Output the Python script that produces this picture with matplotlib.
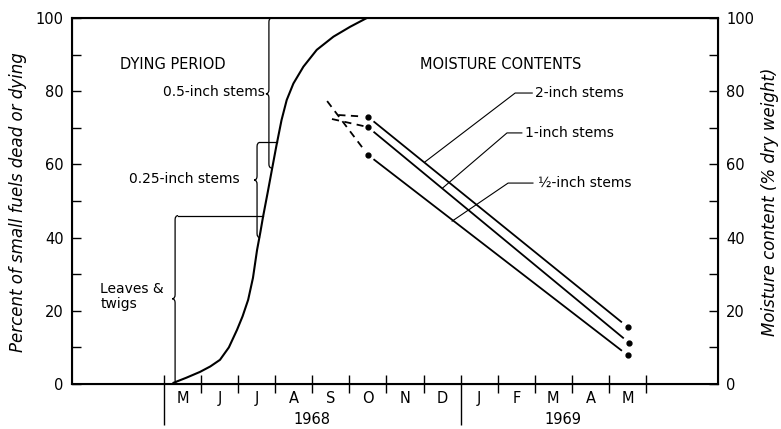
import matplotlib

matplotlib.use("Agg")
import matplotlib.pyplot as plt  # noqa: E402
import numpy as np  # noqa: E402
from matplotlib.patches import PathPatch  # noqa: E402
from matplotlib.path import Path  # noqa: E402

# x axis counted in months from 1 May 1968
month_labels = ["M", "J", "J", "A", "S", "O", "N", "D", "J", "F", "M", "A", "M"]
year_labels = ["1968", "1969"]
year_centres = [4.0, 10.75]
year_breaks = [0, 8]

# dying curve (percent of small fuels dead or dying)
dying_month = [0.25, 0.60, 0.97, 1.25, 1.51, 1.75, 1.97, 2.12, 2.27, 2.40,
               2.51, 2.60, 2.67, 2.80, 2.91, 3.03, 3.17, 3.31, 3.49, 3.76,
               4.12, 4.57, 5.02, 5.47]
dying_pct = [0.3, 1.7, 3.3, 4.8, 6.6, 10.0, 14.8, 18.5, 23.0, 29.0,
             36.6, 41.5, 45.6, 52.5, 58.5, 65.0, 72.1, 77.6, 82.1, 86.7,
             91.3, 94.9, 97.6, 100.0]

# dying-period classes
class_names = ["Leaves &\ntwigs", "0.25-inch stems", "0.5-inch stems"]
class_low = [0, 40, 59]
class_high = [46, 66, 100]

# moisture contents
stem_names = ["2-inch stems", "1-inch stems", "½-inch stems"]
moist_dash_month = [4.70, 4.53, 4.40]
moist_dash_value = [73.5, 72.4, 77.3]
moist_first_month = [5.5, 5.5, 5.5]
moist_first_value = [73.0, 70.2, 62.6]
moist_last_month = [12.5, 12.55, 12.5]
moist_last_value = [15.6, 11.2, 7.9]

FS = 10.5
PX_X = 1 / 37.08   # months per pixel
PX_Y = 1 / 3.66    # percent per pixel

fig = plt.figure(figsize=(7.81, 4.29), dpi=100)
ax = fig.add_axes([72 / 781, 45 / 429, 646 / 781, 366 / 429])
ax.set_xlim(-2.48, 14.94)
ax.set_ylim(0, 100)
for s in ax.spines.values():
    s.set_linewidth(1.5)

# y ticks both sides, inward
ax.set_yticks(range(0, 101, 20))
ax.set_yticks(range(10, 100, 20), minor=True)
ax.tick_params(axis="y", which="both", direction="in", length=6.5, width=1,
               labelsize=FS, pad=6)
ax2 = ax.twinx()
ax2.set_ylim(0, 100)
ax2.set_yticks(range(0, 101, 20))
ax2.set_yticks(range(10, 100, 20), minor=True)
ax2.tick_params(axis="y", which="both", direction="in", length=6.5, width=1,
                labelsize=FS, pad=6)

# month ticks and labels
ax.set_xticks([m for m in range(14) if m not in year_breaks])
ax.set_xticklabels([])
ax.set_xticks([m + 0.5 for m in range(len(month_labels))], minor=True)
ax.set_xticklabels(month_labels, minor=True)
ax.tick_params(axis="x", which="major", direction="inout", length=13, width=1)
ax.tick_params(axis="x", which="minor", length=0, labelsize=FS, pad=5)
ax.vlines(year_breaks, -41 / 366, 9 / 366, transform=ax.get_xaxis_transform(),
          color="black", lw=1, clip_on=False)
for yc, yl in zip(year_centres, year_labels):
    ax.text(yc, -36 / 366, yl, transform=ax.get_xaxis_transform(),
            ha="center", va="center", fontsize=FS)

# dying curve
ax.plot(dying_month, dying_pct, color="black", lw=1.5, solid_capstyle="round",
        solid_joinstyle="round")


def brace(x, y0, y1, tip, lw=0.9):
    w, h = 3 * PX_X, 4 * PX_Y
    verts = [(x + w, y0), (x, y0), (x, y0 + h),
             (x, tip - h), (x, tip), (x - w, tip), (x, tip), (x, tip + h),
             (x, y1 - h), (x, y1), (x + w, y1)]
    codes = [Path.MOVETO, Path.CURVE3, Path.CURVE3,
             Path.LINETO, Path.CURVE3, Path.CURVE3, Path.CURVE3, Path.CURVE3,
             Path.LINETO, Path.CURVE3, Path.CURVE3]
    ax.add_patch(PathPatch(Path(verts, codes), fill=False, lw=lw, ec="black"))


brace_x = [0.30, 2.51, 2.83]
brace_tip = [23.3, 55.7, 79.3]
for bx, lo, hi, tip in zip(brace_x, class_low, class_high, brace_tip):
    brace(bx, lo, hi, tip)
# connectors from brace tops to the curve
for bx, hi in zip(brace_x[:2], class_high[:2]):
    ax.plot([bx + 3 * PX_X, np.interp(hi, dying_pct, dying_month)], [hi, hi],
            color="black", lw=0.9)

ax.text(-1.19, 87.2, "DYING PERIOD", fontsize=FS, va="center", ha="left")
ax.text(2.72, 79.8, class_names[2], fontsize=10, va="center", ha="right")
ax.text(2.05, 56.0, class_names[1], fontsize=10, va="center", ha="right")
ax.text(-1.72, 24.0, class_names[0], fontsize=10, va="center", ha="left",
        linespacing=1.1)

# moisture lines
gap = 0.17
for i in range(3):
    x0, y0 = moist_first_month[i], moist_first_value[i]
    x1, y1 = moist_last_month[i], moist_last_value[i]
    f = gap / (x1 - x0)
    ax.plot([x0 + f * (x1 - x0), x1 - f * (x1 - x0)],
            [y0 + f * (y1 - y0), y1 - f * (y1 - y0)], color="black", lw=1.3)
    ax.plot([moist_dash_month[i], x0 - 0.12], [moist_dash_value[i],
            y0 + (moist_dash_value[i] - y0) * 0.12 / (x0 - moist_dash_month[i])],
            color="black", lw=1.3, dashes=(4, 3))
    ax.plot([x0, x1], [y0, y1], "o", color="black", ms=3.5, ls="none")

ax.text(6.9, 87.4, "MOISTURE CONTENTS", fontsize=FS, va="center", ha="left")
leaders = [((9.47, 79.5), (9.93, 79.5), (7.04, 60.7), 10.0),
           ((9.25, 68.6), (9.65, 68.6), (7.52, 53.6), 9.74),
           ((9.28, 54.9), (9.95, 54.9), (7.77, 44.5), 10.09)]
for name, (elbow, end, target, tx) in zip(stem_names, leaders):
    ax.plot([target[0], elbow[0], end[0]], [target[1], elbow[1], end[1]],
            color="black", lw=0.8)
    ax.text(tx, elbow[1], name, fontsize=10, va="center", ha="left")

fig.text(18 / 781, 0.53, "Percent of small fuels dead or dying", rotation=90,
         ha="center", va="center", fontsize=12, style="italic")
fig.text(770 / 781, 0.53, "Moisture content (% dry weight)", rotation=90,
         ha="center", va="center", fontsize=12, style="italic")

fig.savefig("out.png", dpi=100)
